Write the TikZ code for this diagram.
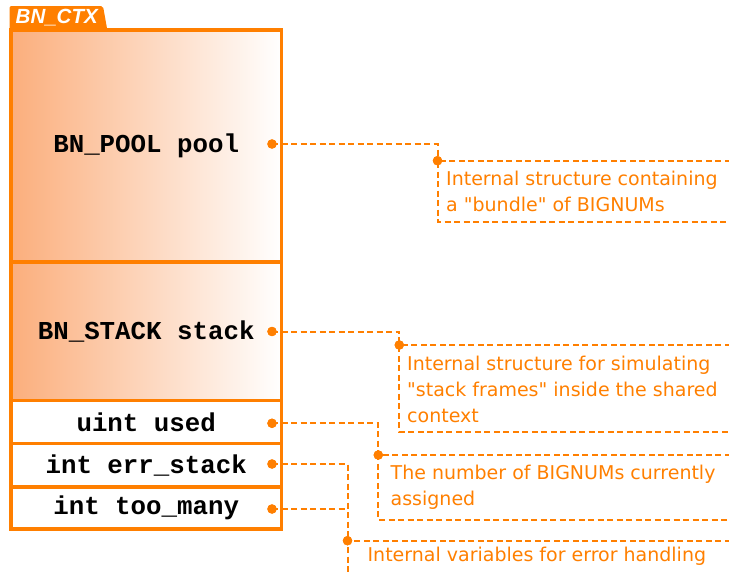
\documentclass[tikz,border=0pt]{standalone}
\usepackage{fontspec}
\setmainfont{DejaVu Sans}[Ligatures=TeXOff]
\newfontfamily\codefont{Liberation Mono}
\newfontfamily\tabfont{Liberation Sans}
\definecolor{acc}{RGB}{255,127,0}
\definecolor{grad}{RGB}{251,174,124}
\begin{document}
\begin{tikzpicture}[x=1pt,y=-1pt,
  field/.style={draw=acc, line width=3.5pt, minimum width=270.3pt, inner sep=0pt,
    font=\codefont\bfseries\fontsize{25.8}{25.8}\selectfont, text=black},
  shadedfield/.style={field, left color=grad, right color=white},
  plainfield/.style={field, fill=white},
  dot/.style={circle, fill=acc, inner sep=0pt, minimum size=9.4pt},
  conn/.style={draw=acc, line width=2pt, dash pattern=on 6pt off 3.5pt},
  note/.style={anchor=base west, align=left, inner sep=0pt, text=acc,
    font=\fontsize{19}{26}\selectfont}
]
\clip (0,0) rectangle (729,571);
% tab
\fill[acc, rounded corners=2pt] (9.5,31) -- (9.5,6) -- (103,6) -- (107.5,31) -- cycle;
\node[anchor=base west, inner sep=0pt, text=white, font=\tabfont\bfseries\itshape\fontsize{20.5}{20.5}\selectfont] (tab) at (15.5,23.8) {BN\_CTX};
% fields
\node[shadedfield, minimum height=232pt] (pool) at (146.2,146) {BN\_POOL pool};
\node[shadedfield, minimum height=138.5pt] (stack) at (146.2,331.25) {BN\_STACK stack};
\node[plainfield, minimum height=43.2pt] (used) at (146.2,422.1) {uint used};
\node[plainfield, minimum height=43.3pt] (err) at (146.2,465.35) {int err\_stack};
\node[plainfield, minimum height=42pt] (too) at (146.2,508) {int too\_many};
% dots
\node[dot] (dpool) at (272,144) {};
\node[dot] (dstack) at (272,331.5) {};
\node[dot] (dused) at (272,423.3) {};
\node[dot] (derr) at (272,464) {};
\node[dot] (dtoo) at (272,509) {};
\node[dot] (apool) at (437.5,160.7) {};
\node[dot] (astack) at (399.3,345) {};
\node[dot] (aused) at (378.3,455) {};
\node[dot] (aerr) at (347.5,540.7) {};
% frame ends
\coordinate (p1) at (740,160.7); \coordinate (p2) at (740,221.7);
\coordinate (s1) at (740,345);   \coordinate (s2) at (740,432.3);
\coordinate (u1) at (740,455);   \coordinate (u2) at (740,520);
\coordinate (e1) at (740,540.7); \coordinate (e2) at (347.5,590);
% connectors
\draw[conn] (dpool.center) -| (apool.center);
\draw[conn] (dstack.center) -| (astack.center);
\draw[conn] (dused.center) -| (aused.center);
\draw[conn] (derr.center) -| (aerr.center);
\draw[conn] (dtoo.center) -- (dtoo.center -| aerr.center);
\draw[conn] (p1) -- (apool.center) |- (p2);
\draw[conn] (s1) -- (astack.center) |- (s2);
\draw[conn] (u1) -- (aused.center) |- (u2);
\draw[conn] (e1) -- (aerr.center) -- (e2);
\foreach \n in {dpool,dstack,dused,derr,dtoo,apool,astack,aused,aerr}
  \fill[acc] (\n.center) circle (4.7pt);
% notes (anchored at the baseline of the last line)
\node[note] (npool) at (446,211.7) {Internal structure containing\\a "bundle" of BIGNUMs};
\node[note] (nstack) at (407,422) {Internal structure for simulating\\"stack frames" inside the shared\\context};
\node[note] (nused) at (390.5,505.3) {The number of BIGNUMs currently\\assigned};
\node[note] (nerr) at (367.4,561.7) {Internal variables for error handling};
\end{tikzpicture}
\end{document}
